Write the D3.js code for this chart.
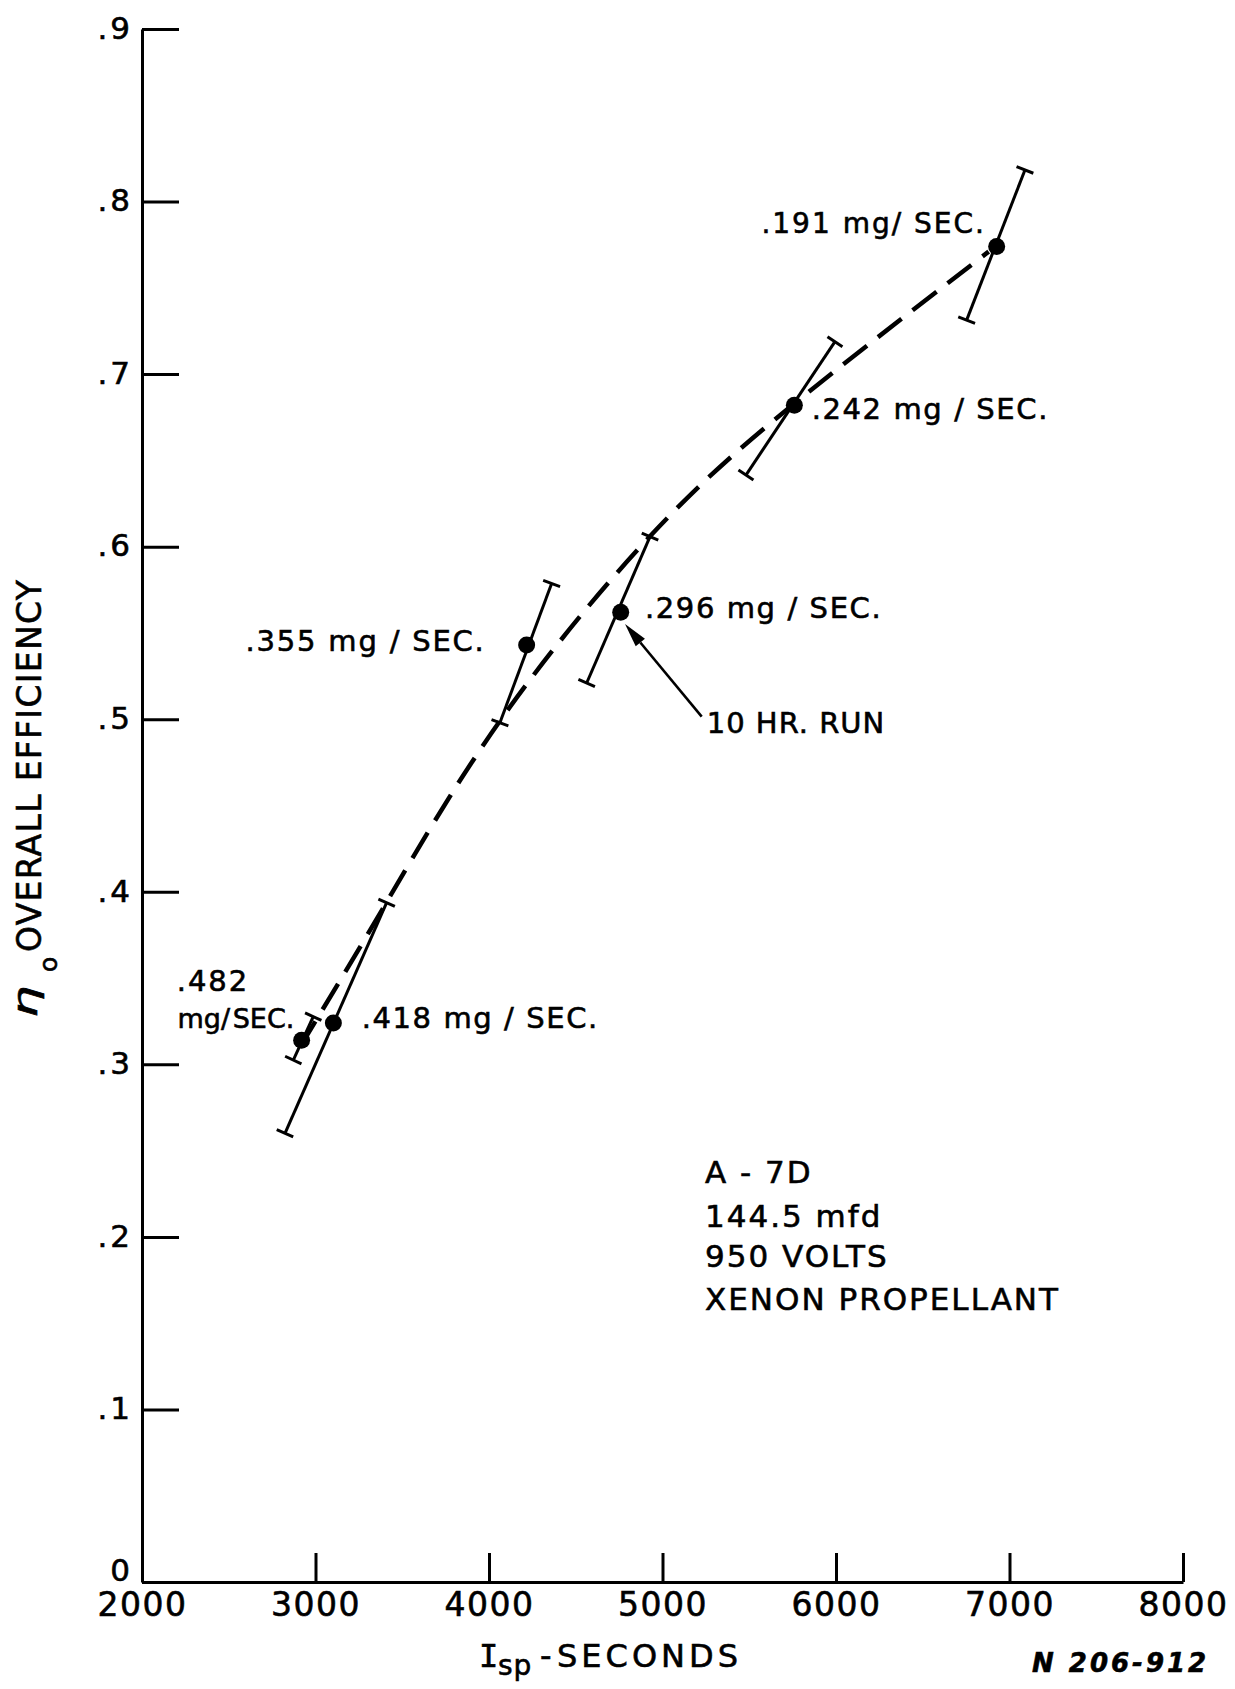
<!DOCTYPE html>
<html><head><meta charset="utf-8">
<script src="https://cdn.jsdelivr.net/npm/d3@7"></script>
<style>body{margin:0;background:#fff}svg text{font-family:"DejaVu Sans",sans-serif;fill:#000;stroke:#000;stroke-width:0.6px}</style>
</head><body>
<script>
// ---- data ----
const xTicks = [2000, 3000, 4000, 5000, 6000, 7000, 8000];
const xTickLabels = ["2000", "3000", "4000", "5000", "6000", "7000", "8000"];
const yTicks = [0, 0.1, 0.2, 0.3, 0.4, 0.5, 0.6, 0.7, 0.8, 0.9];
const yTickLabels = ["0", ".1", ".2", ".3", ".4", ".5", ".6", ".7", ".8", ".9"];

const flowRates = [".482", ".418", ".355", ".296", ".242", ".191"];
const ispValues = [2920, 3103, 4217, 4759, 5760, 6926];
const effValues = [0.314, 0.324, 0.543, 0.562, 0.682, 0.774];
const ispLow  = [2872, 2824, 4063, 4563, 5481, 6753];
const effLow  = [0.3025, 0.260, 0.498, 0.521, 0.6415, 0.7313];
const ispHigh = [2987, 3410, 4361, 4928, 5994, 7089];
const effHigh = [0.3276, 0.3937, 0.5787, 0.6058, 0.7188, 0.8183];

const curveIsp = [2910, 3410, 4063, 4928, 5760, 6880];
const curveEff = [0.310, 0.394, 0.499, 0.606, 0.683, 0.771];

const pointLabels = [".482", "mg/ SEC.", ".418 mg / SEC.", ".355 mg / SEC.", ".296 mg / SEC.", ".242 mg / SEC.", ".191 mg/ SEC."];
const noteLines = ["A - 7D", "144.5 mfd", "950 VOLTS", "XENON PROPELLANT"];
const runLabel = "10 HR. RUN";
const xTitle = ["I", "sp", "-", "SECONDS"];
const yTitle = ["η", "o", "OVERALL EFFICIENCY"];
const figureId = "N 206-912";

// ---- layout (positions, not data) ----
const W = 1235, H = 1689;
const x = d3.scaleLinear().domain([2000, 8000]).range([142, 1183]);
const y = d3.scaleLinear().domain([0, 0.9]).range([1582, 29]);

const svg = d3.select("body").append("svg").attr("width", W).attr("height", H)
  .style("background", "#fff");

// axes
const yAxis = d3.axisLeft(y).tickValues(yTicks).tickFormat((d, i) => yTickLabels[i])
  .tickSize(-37).tickSizeOuter(0).tickPadding(9);
const gy = svg.append("g").attr("transform", "translate(142,0)").call(yAxis);
const xAxis = d3.axisBottom(x).tickValues(xTicks).tickFormat((d, i) => xTickLabels[i])
  .tickSize(-29).tickSizeOuter(0).tickPadding(11);
const gx = svg.append("g").attr("transform", "translate(0,1582)").call(xAxis);

[gx, gy].forEach(g => {
  g.select(".domain").attr("stroke", "#000").attr("stroke-width", 3);
  g.selectAll(".tick line").attr("stroke", "#000").attr("stroke-width", 3);
  g.selectAll(".tick text").attr("font-family", "DejaVu Sans").attr("fill", "#000");
});
gy.selectAll(".tick text").attr("font-size", 31).attr("letter-spacing", 3)
  .attr("dy", d => d === 0 ? "-0.05em" : "0.3em");
gx.selectAll(".tick text").attr("font-size", 33).attr("letter-spacing", 1.5);

// dashed fitted curve
const curvePts = curveIsp.map((v, i) => [x(v), y(curveEff[i])]);
svg.append("path")
  .attr("d", d3.line().curve(d3.curveNatural)(curvePts))
  .attr("fill", "none").attr("stroke", "#000").attr("stroke-width", 4.5)
  .attr("stroke-dasharray", "30,14");

// error bars (slanted) with perpendicular caps
const capHalf = 9;
ispValues.forEach((v, i) => {
  const p1 = [x(ispLow[i]), y(effLow[i])];
  const p2 = [x(ispHigh[i]), y(effHigh[i])];
  const dx = p2[0] - p1[0], dy = p2[1] - p1[1];
  const len = Math.hypot(dx, dy);
  const n = [-dy / len, dx / len];
  const g = svg.append("g").attr("stroke", "#000").attr("stroke-width", 3).attr("fill", "none");
  g.append("line").attr("x1", p1[0]).attr("y1", p1[1]).attr("x2", p2[0]).attr("y2", p2[1]);
  [p1, p2].forEach(p => {
    g.append("line")
      .attr("x1", p[0] - n[0] * capHalf).attr("y1", p[1] - n[1] * capHalf)
      .attr("x2", p[0] + n[0] * capHalf).attr("y2", p[1] + n[1] * capHalf);
  });
});

// points
svg.selectAll("circle.pt").data(ispValues).enter().append("circle")
  .attr("class", "pt")
  .attr("cx", d => x(d)).attr("cy", (d, i) => y(effValues[i]))
  .attr("r", 8.5).attr("fill", "#000");

// point labels (placed in data coordinates)
const labelPos = [
  [2200, 0.3427], [2205, 0.3210], [3266, 0.3209], [2597, 0.5395],
  [4899, 0.5586], [5860, 0.6740], [5570, 0.7818]
];
const labelSize = [29, 27, 29, 29, 29, 29, 28];
const labelSpacing = [2, 0, 1.6, 1.8, 1.6, 1.6, 2];
const labelWordSpacing = [0, -6, 0, 0, 0, 0, 0];
pointLabels.forEach((t, i) => {
  svg.append("text").attr("x", x(labelPos[i][0])).attr("y", y(labelPos[i][1]))
    .attr("font-size", labelSize[i]).attr("letter-spacing", labelSpacing[i])
    .attr("word-spacing", labelWordSpacing[i]).text(t);
});

// 10 HR RUN arrow
const arrowTail = [5226, 0.5015], arrowTip = [4784, 0.5552];
const S = [x(arrowTail[0]), y(arrowTail[1])], T = [x(arrowTip[0]), y(arrowTip[1])];
{
  const dx = T[0] - S[0], dy = T[1] - S[1], len = Math.hypot(dx, dy);
  const u = [dx / len, dy / len], n = [-u[1], u[0]];
  const B = [T[0] - u[0] * 24, T[1] - u[1] * 24];
  svg.append("line").attr("x1", S[0]).attr("y1", S[1]).attr("x2", B[0]).attr("y2", B[1])
    .attr("stroke", "#000").attr("stroke-width", 2.6);
  svg.append("polygon")
    .attr("points", [T, [B[0] + n[0] * 6, B[1] + n[1] * 6], [B[0] - n[0] * 6, B[1] - n[1] * 6]].map(p => p.join(",")).join(" "))
    .attr("fill", "#000");
}
svg.append("text").attr("x", x(5255)).attr("y", y(0.492)).attr("font-size", 29)
  .attr("letter-spacing", 1).text(runLabel);

// note block
const noteBase = [1183, 1227, 1267, 1310];
noteLines.forEach((t, i) => {
  svg.append("text").attr("x", 705).attr("y", noteBase[i]).attr("font-size", 31)
    .attr("letter-spacing", 2).text(t);
});

// x title
svg.append("text").attr("x", 479).attr("y", 1667)
  .style("font-family", "DejaVu Sans Mono").attr("font-size", 32).text(xTitle[0]);
svg.append("text").attr("x", 498).attr("y", 1675).attr("font-size", 28).attr("letter-spacing", 1).text(xTitle[1]);
svg.append("text").attr("x", 540).attr("y", 1667).attr("font-size", 32).text(xTitle[2]);
svg.append("text").attr("x", 557).attr("y", 1667).attr("font-size", 32).attr("letter-spacing", 4).text(xTitle[3]);

// y title (rotated)
svg.append("text").attr("transform", "translate(37,1018) rotate(-90) scale(1.5,1)")
  .attr("font-size", 34).attr("font-style", "italic").text(yTitle[0]);
svg.append("text").attr("transform", "translate(57,972) rotate(-90)")
  .attr("font-size", 25).text(yTitle[1]);
svg.append("text").attr("transform", "translate(41,952) rotate(-90)")
  .attr("font-size", 33).attr("letter-spacing", 1.3).text(yTitle[2]);

// figure id
svg.append("text").attr("x", 1032).attr("y", 1672).attr("font-size", 26)
  .attr("font-weight", "bold").attr("font-style", "italic").attr("letter-spacing", 3).text(figureId);
</script>
</body></html>
